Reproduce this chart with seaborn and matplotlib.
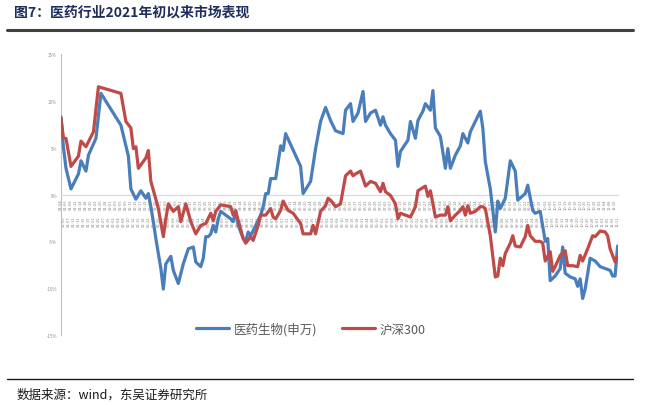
import numpy as np
import pandas as pd
import matplotlib
matplotlib.use("Agg")
import matplotlib.pyplot as plt
import seaborn as sns
from matplotlib.lines import Line2D

# ---- data (trading-day index since 2021-01-04, cumulative return %) ----
pharma_day = [0, 1, 2, 4, 7, 8, 10, 11, 14, 16, 24, 27, 28, 30, 32, 34, 35, 36, 37, 38,
              40, 41, 42, 44, 45, 47, 49, 51, 53, 54, 56, 57, 58, 59, 60, 61, 62, 63, 64, 66,
              68, 69, 70, 71, 73, 74, 75, 76, 78, 80, 81, 82, 83, 84, 86, 88, 89, 90, 96, 97,
              100, 102, 104, 106, 108, 110, 113, 114, 116, 117, 119, 121, 122, 124, 126, 128, 129, 130, 132, 134,
              135, 136, 139, 140, 142, 143, 145, 146, 148, 149, 150, 152, 154, 155, 156, 158, 160, 161, 163, 164,
              166, 168, 169, 170, 172, 174, 175, 176, 178, 180, 182, 183, 186, 187, 189, 190, 192, 194, 195, 196,
              198, 200, 201, 202, 204, 206, 207, 208, 209, 210, 212, 214, 216, 218, 220, 221, 222, 223]
pharma_ret = [8.3, 5.0, 2.8, 0.6, 2.2, 3.6, 2.5, 4.2, 6.0, 10.8, 7.4, 4.1, 0.6, -0.5, 0.4, -0.4, 0.1, -1.3, -2.9, -4.7,
              -7.9, -10.1, -7.4, -6.6, -8.1, -9.5, -7.4, -5.8, -5.6, -7.2, -7.7, -6.8, -4.5, -4.5, -4.2, -3.3, -4.0, -2.6, -1.8, -2.2,
              -2.6, -2.9, -1.7, -3.3, -4.7, -5.0, -4.0, -4.4, -3.3, -2.2, -1.3, 0.1, 0.1, 1.7, 1.7, 5.2, 4.7, 6.5, 3.0, 0.1,
              1.4, 4.9, 7.8, 9.3, 7.9, 6.8, 6.5, 9.0, 9.7, 7.8, 8.7, 11.0, 7.8, 8.7, 9.0, 7.4, 8.3, 7.4, 6.5, 5.8,
              3.0, 4.6, 5.8, 7.8, 6.0, 7.9, 8.9, 9.7, 9.0, 11.1, 7.1, 6.2, 2.8, 4.9, 2.8, 4.2, 5.2, 6.5, 5.5, 6.7,
              7.8, 8.9, 7.1, 3.5, 0.6, -4.0, -0.7, -1.5, -0.4, 3.6, 2.5, -0.6, 0.1, 1.0, -1.7, -2.0, -1.8, -5.0, -4.7, -9.2,
              -8.7, -7.9, -5.6, -8.4, -8.8, -9.0, -9.8, -9.0, -11.1, -10.1, -6.8, -7.1, -7.7, -7.9, -8.1, -8.7, -8.7, -5.5]

hs300_day = [0, 1, 2, 4, 7, 8, 10, 13, 15, 24, 26, 28, 29, 30, 31, 34, 35, 36, 38, 39,
             41, 42, 43, 45, 47, 48, 50, 52, 54, 56, 58, 60, 61, 62, 64, 66, 68, 69, 70, 73,
             74, 76, 77, 79, 80, 82, 84, 85, 86, 88, 89, 91, 93, 96, 97, 100, 101, 102, 104, 106,
             107, 108, 110, 112, 114, 116, 117, 118, 120, 122, 124, 126, 128, 129, 130, 132, 134, 135, 136, 138,
             140, 142, 143, 146, 147, 148, 150, 152, 154, 155, 156, 158, 160, 161, 162, 163, 164, 166, 168, 169,
             170, 172, 174, 175, 176, 177, 178, 180, 181, 182, 184, 186, 187, 188, 190, 192, 193, 194, 196, 197,
             198, 200, 202, 203, 205, 207, 208, 209, 211, 213, 214, 216, 218, 219, 220, 222, 223]
hs300_ret = [8.1, 6.0, 6.0, 3.0, 4.1, 5.7, 5.1, 6.7, 11.5, 10.8, 7.8, 7.1, 4.9, 5.1, 2.8, 3.9, 4.7, 1.4, -0.5, -1.5,
             -4.5, -2.6, -1.0, -1.8, -1.3, -2.9, -1.0, -2.9, -4.2, -3.3, -3.1, -2.0, -2.8, -1.8, -1.1, -1.2, -1.3, -2.2, -1.8, -4.7,
             -5.2, -4.5, -4.9, -3.3, -2.2, -2.2, -1.5, -2.4, -2.6, -1.7, -0.7, -1.7, -2.0, -3.1, -4.2, -4.2, -3.3, -4.2, -1.8, -1.2,
             -0.4, -0.6, -1.3, -1.0, 2.0, 2.5, 2.0, 2.2, 2.5, 0.9, 1.4, 1.2, 0.3, 1.2, 0.3, -0.1, -1.0, -2.6, -2.0, -2.2,
             -2.4, -1.3, 0.4, 0.9, -0.2, 0.4, -2.4, -2.2, -2.2, -1.3, -2.8, -2.2, -1.7, -1.3, -2.2, -1.2, -2.0, -1.8, -1.3, -1.3,
             -1.5, -4.4, -8.8, -8.7, -6.8, -7.6, -6.3, -5.2, -4.4, -5.5, -5.6, -4.5, -3.3, -4.4, -5.0, -5.0, -5.2, -7.1, -6.1, -8.2,
             -7.7, -6.5, -6.0, -7.6, -7.6, -7.7, -6.5, -7.1, -5.8, -4.4, -4.5, -3.9, -4.0, -4.4, -5.8, -7.2, -6.6]

series_names = ["医药生物(申万)", "沪深300"]
y_ticks = [15, 10, 5, 0, -5, -10, -15]
start_date = "2021-01-04"
n_days = 224

# ---- build long-form frame ----
df = pd.concat([
    pd.DataFrame({"day": pharma_day, "ret": pharma_ret, "series": series_names[0]}),
    pd.DataFrame({"day": hs300_day, "ret": hs300_ret, "series": series_names[1]}),
], ignore_index=True)
dates = pd.bdate_range(start_date, periods=n_days)

sns.set_style("white")
plt.rcParams["font.family"] = ["Noto Sans CJK SC", "DejaVu Sans"]

fig = plt.figure(figsize=(6.51, 4.06), dpi=100)
ax = fig.add_axes([0.0937, 0.1724, 0.855, 0.6921])

palette = {series_names[0]: "#4A7EBB", series_names[1]: "#BE4B48"}
sns.lineplot(data=df, x="day", y="ret", hue="series", palette=palette,
             estimator=None, sort=False, linewidth=2.3, ax=ax, legend=False)

ax.set_xlim(0, n_days - 1)
ax.set_ylim(-15, 15)
ax.set_xlabel("")
ax.set_ylabel("")

# y axis
ax.set_yticks(y_ticks)
ax.set_yticklabels([f"{t}%" for t in y_ticks], fontsize=3.2, color="#8c8c8c")
ax.tick_params(axis="y", direction="out", length=2, width=0.5, color="#bfbfbf", pad=1)

# x axis at zero with dense (staggered) date labels
ax.spines["bottom"].set_position(("data", 0))
for s in ["top", "right"]:
    ax.spines[s].set_visible(False)
ax.spines["left"].set_color("#bfbfbf")
ax.spines["left"].set_linewidth(0.8)
ax.spines["bottom"].set_color("#d9d9d9")
ax.spines["bottom"].set_linewidth(0.8)

even = np.arange(0, n_days, 2)
odd = np.arange(1, n_days, 2)
ax.set_xticks(even)
ax.set_xticklabels([dates[i].strftime("%m-%d") for i in even], fontsize=2.9,
                   color="#858585", rotation=90)
ax.set_xticks(odd, minor=True)
ax.set_xticklabels([dates[i].strftime("%m-%d") for i in odd], minor=True, fontsize=2.9,
                   color="#858585", rotation=90)
ax.tick_params(axis="x", which="major", direction="out", length=1.5, width=0.3,
               color="#d9d9d9", pad=1.5)
ax.tick_params(axis="x", which="minor", direction="out", length=1.5, width=0.3,
               color="#d9d9d9", pad=13.5)
for lab in ax.get_xticklabels() + ax.get_xticklabels(minor=True):
    lab.set_zorder(0)
for ln in ax.lines:
    ln.set_zorder(3)
ax.grid(False)

# legend
handles = [Line2D([0], [0], color=palette[n], lw=2.3) for n in series_names]
fig.legend(handles, series_names, loc="center", bbox_to_anchor=(0.478, 0.187), ncol=2,
           frameon=False, fontsize=9, handlelength=2.6, columnspacing=2.0,
           labelcolor="#595959", handletextpad=0.4)

# title and source
fig.text(0.021, 0.968, "图7：医药行业2021年初以来市场表现", fontsize=10, fontweight="bold",
         color="#1F2D5C", ha="left", va="center")
fig.add_artist(Line2D([0.011, 0.972], [0.924, 0.924], color="#404040", lw=2.2,
                      transform=fig.transFigure))
fig.add_artist(Line2D([0.011, 0.972], [0.064, 0.064], color="#1a1a1a", lw=1.0,
                      transform=fig.transFigure))
fig.text(0.025, 0.027, "数据来源：wind，东吴证券研究所", fontsize=9, color="#1a1a1a",
         ha="left", va="center")

fig.savefig("out.png", dpi=100, facecolor="white")
